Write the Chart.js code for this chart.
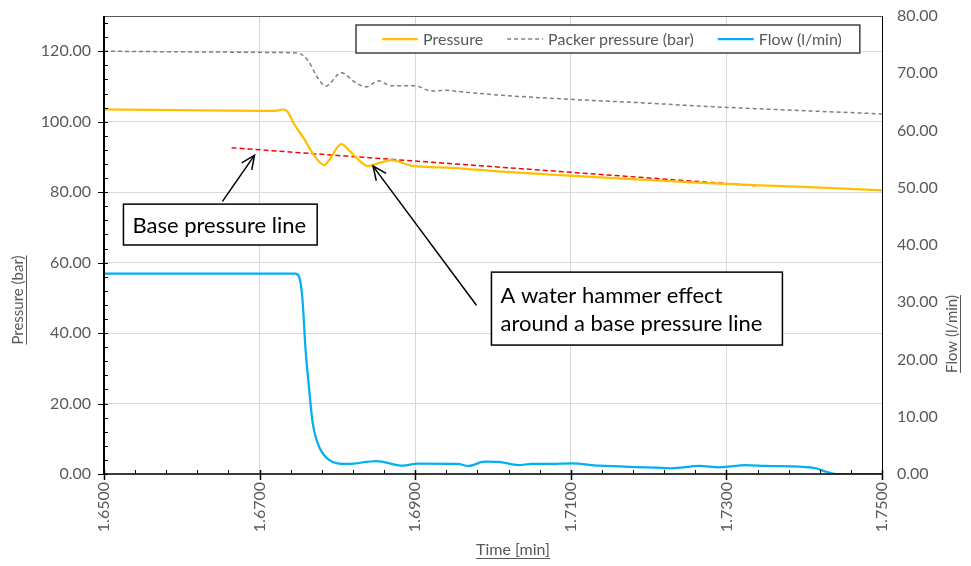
<!DOCTYPE html>
<html>
<head>
<meta charset="utf-8">
<script src="https://cdn.jsdelivr.net/npm/chart.js@4.4.1/dist/chart.umd.min.js"></script>
<style>
  html, body { margin: 0; padding: 0; background: #ffffff; }
  #wrap { width: 971px; height: 566px; position: relative; }
</style>
</head>
<body>
<div id="wrap"><canvas id="c" width="971" height="566"></canvas></div>
<script>
// Tick labels
const timeTicks = [1.65, 1.67, 1.69, 1.71, 1.73, 1.75];
const pressureTicks = [0, 20, 40, 60, 80, 100, 120];
const flowTicks = [0, 10, 20, 30, 40, 50, 60, 70, 80];

// Pressure (bar)
const pressureTime = [1.6500, 1.6598, 1.6700, 1.6721, 1.6730, 1.6736, 1.6744, 1.6757, 1.6770, 1.6783, 1.6789,
  1.6805, 1.6817, 1.6830, 1.6839, 1.6854, 1.6869, 1.6895, 1.6921, 1.6946, 1.7011, 1.7104, 1.7269, 1.7398, 1.7500];
const pressureBar = [103.5, 103.3, 103.1, 103.1, 103.5, 102.8, 99.5, 95.2, 90.5, 87.7, 89.0,
  93.6, 91.4, 88.6, 87.4, 88.3, 89.1, 87.5, 87.1, 86.9, 85.8, 84.6, 82.6, 81.5, 80.5];

// Packer pressure (bar)
const packerTime = [1.6500, 1.6624, 1.6740, 1.6749, 1.6762, 1.6774, 1.6785, 1.6805, 1.6822, 1.6837, 1.6853,
  1.6869, 1.6899, 1.6921, 1.6937, 1.6968, 1.7011, 1.7104, 1.7205, 1.7269, 1.7500];
const packerBar = [120.0, 119.8, 119.6, 119.5, 117.4, 112.7, 110.1, 113.9, 111.3, 109.9, 111.6,
  110.2, 110.2, 108.7, 108.9, 108.3, 107.5, 106.3, 105.2, 104.4, 102.2];

// Flow (l/min)
const flowTime = [1.6500, 1.6746, 1.6751, 1.6755, 1.6759, 1.6764, 1.6768, 1.6774, 1.6787, 1.6813, 1.6850,
  1.6884, 1.6903, 1.6955, 1.6968, 1.6989, 1.7007, 1.7033, 1.7050, 1.7071, 1.7101, 1.7136, 1.7200, 1.7230,
  1.7265, 1.7291, 1.7325, 1.7351, 1.7394, 1.7415, 1.7428, 1.7441, 1.7500];
const flowLpm = [35.0, 35.0, 34.4, 30.7, 21.9, 14.4, 9.1, 5.6, 2.7, 1.75, 2.27,
  1.45, 1.80, 1.75, 1.40, 2.15, 2.10, 1.57, 1.75, 1.75, 1.87, 1.45, 1.17, 1.00,
  1.40, 1.17, 1.57, 1.40, 1.28, 1.00, 0.40, 0.00, 0.00];

// Base pressure line (bar)
const baseLineTime = [1.6664, 1.7340];
const baseLineBar = [92.6, 81.8];

// Callouts, anchored in data units (time, pressure)
const callouts = [
  { lines: ['Base pressure line'], box: [1.6525, 76.6, 1.6774, 65.0],
    arrowFrom: [1.66523, 77.4], arrowTo: [1.66935, 90.5] },
  { lines: ['A water hammer effect', 'around a base pressure line'], box: [1.6998, 57.3, 1.7372, 36.6],
    arrowFrom: [1.69787, 47.9], arrowTo: [1.68458, 87.4] }
];

const FONT = 'Lato, "Open Sans", sans-serif';
const GREY_TEXT = '#595959';

const toXY = (xs, ys) => xs.map((x, i) => ({ x: x, y: ys[i] }));

// fixed axis band sizes, no extra label overhang padding
function fixWidth(w) { return s => { s.width = w; s.paddingTop = 0; s.paddingBottom = 0; }; }
function fixHeight(h) { return s => { s.height = h; s.paddingLeft = 0; s.paddingRight = 0; }; }

const decorations = {
  id: 'decorations',
  afterDatasetsDraw(chart) {
    const ctx = chart.ctx;
    const a = chart.chartArea;
    const xs = chart.scales.x, yl = chart.scales.y;
    ctx.save();

    // frame: top border, right axis, left axis, bottom axis
    ctx.strokeStyle = '#595959'; ctx.lineWidth = 1;
    ctx.beginPath(); ctx.moveTo(a.left, a.top + 0.5); ctx.lineTo(a.right, a.top + 0.5); ctx.stroke();
    ctx.strokeStyle = '#000000';
    ctx.beginPath(); ctx.moveTo(a.right + 0.5, a.top); ctx.lineTo(a.right + 0.5, a.bottom); ctx.stroke();
    ctx.lineWidth = 2;
    ctx.beginPath(); ctx.moveTo(a.left, a.top); ctx.lineTo(a.left, a.bottom + 1); ctx.stroke();
    ctx.lineWidth = 1.5;
    ctx.beginPath(); ctx.moveTo(a.left, a.bottom); ctx.lineTo(a.right, a.bottom); ctx.stroke();

    // left axis ticks: major outside, minor inside
    ctx.lineWidth = 1;
    for (let v = 0; v <= 130.001; v += 4) {
      const y = Math.round(yl.getPixelForValue(v)) + 0.5;
      ctx.beginPath(); ctx.moveTo(a.left, y); ctx.lineTo(a.left + 4, y); ctx.stroke();
    }
    pressureTicks.forEach(v => {
      const y = Math.round(yl.getPixelForValue(v)) + 0.5;
      ctx.beginPath(); ctx.moveTo(a.left - 6, y); ctx.lineTo(a.left, y); ctx.stroke();
    });
    // bottom axis ticks
    for (let i = 0; i <= 25; i++) {
      const x = Math.round(xs.getPixelForValue(1.65 + i * 0.004)) + 0.5;
      ctx.beginPath(); ctx.moveTo(x, a.bottom - 4); ctx.lineTo(x, a.bottom); ctx.stroke();
    }
    ctx.lineWidth = 1.5;
    timeTicks.forEach(v => {
      const x = Math.round(xs.getPixelForValue(v)) + 0.5;
      ctx.beginPath(); ctx.moveTo(x, a.bottom - 4); ctx.lineTo(x, a.bottom + 6); ctx.stroke();
    });

    // axis titles (underlined)
    ctx.fillStyle = GREY_TEXT; ctx.strokeStyle = GREY_TEXT;
    ctx.textBaseline = 'alphabetic';
    const underlined = (txt, cx, cy, rot, size) => {
      ctx.save();
      ctx.font = size + 'px ' + FONT;
      ctx.translate(cx, cy); ctx.rotate(rot);
      const w = ctx.measureText(txt).width;
      ctx.textAlign = 'center';
      ctx.fillText(txt, 0, 5);
      ctx.lineWidth = 1;
      ctx.beginPath(); ctx.moveTo(-w / 2, 8.5); ctx.lineTo(w / 2, 8.5); ctx.stroke();
      ctx.restore();
    };
    underlined('Pressure (bar)', 18, 300, -Math.PI / 2, 15);
    underlined('Flow (l/min)', 952, 334, -Math.PI / 2, 15);
    underlined('Time [min]', 513, 550, 0, 16);

    // legend
    const items = chart.data.datasets.filter(d => !d.hideInLegend);
    ctx.font = '16px ' + FONT;
    const boxL = 356, boxT = 25, boxH = 28, gap = 24;
    let x = boxL + 26;
    const pos = [];
    items.forEach(d => {
      const w = ctx.measureText(d.label).width;
      pos.push({ d, x, w });
      x += 36 + 5 + w + gap;
    });
    const boxR = x - gap + 18;
    ctx.fillStyle = '#ffffff';
    ctx.fillRect(boxL, boxT, boxR - boxL, boxH);
    ctx.strokeStyle = '#404040'; ctx.lineWidth = 1.5;
    ctx.strokeRect(boxL, boxT, boxR - boxL, boxH);
    const cy = boxT + boxH / 2;
    pos.forEach(p => {
      ctx.strokeStyle = p.d.borderColor;
      ctx.lineWidth = p.d.borderWidth;
      ctx.setLineDash(p.d.borderDash || []);
      ctx.beginPath(); ctx.moveTo(p.x, cy); ctx.lineTo(p.x + 36, cy); ctx.stroke();
      ctx.setLineDash([]);
      ctx.fillStyle = GREY_TEXT;
      ctx.textAlign = 'left'; ctx.textBaseline = 'middle';
      ctx.fillText(p.d.label, p.x + 41, cy + 1);
    });

    // callouts with arrows
    const px = (t, p) => [xs.getPixelForValue(t), yl.getPixelForValue(p)];
    callouts.forEach(c => {
      const [bx1, by1] = px(c.box[0], c.box[1]);
      const [bx2, by2] = px(c.box[2], c.box[3]);
      const [ax1, ay1] = px(c.arrowFrom[0], c.arrowFrom[1]);
      const [ax2, ay2] = px(c.arrowTo[0], c.arrowTo[1]);
      // arrow
      ctx.strokeStyle = '#000000'; ctx.lineWidth = 1.5;
      ctx.beginPath(); ctx.moveTo(ax1, ay1); ctx.lineTo(ax2, ay2); ctx.stroke();
      const ang = Math.atan2(ay2 - ay1, ax2 - ax1);
      const hl = 15, hw = 0.42;
      ctx.beginPath();
      ctx.moveTo(ax2 - hl * Math.cos(ang - hw), ay2 - hl * Math.sin(ang - hw));
      ctx.lineTo(ax2, ay2);
      ctx.lineTo(ax2 - hl * Math.cos(ang + hw), ay2 - hl * Math.sin(ang + hw));
      ctx.stroke();
      // box
      ctx.fillStyle = '#ffffff';
      ctx.fillRect(bx1, by1, bx2 - bx1, by2 - by1);
      ctx.strokeStyle = '#000000'; ctx.lineWidth = 1.5;
      ctx.strokeRect(bx1, by1, bx2 - bx1, by2 - by1);
      ctx.fillStyle = '#000000';
      ctx.font = '22px ' + FONT;
      ctx.textAlign = 'left'; ctx.textBaseline = 'middle';
      const n = c.lines.length, lh = 28;
      const midY = (by1 + by2) / 2;
      c.lines.forEach((ln, i) => {
        ctx.fillText(ln, bx1 + 9, midY + (i - (n - 1) / 2) * lh + 1);
      });
    });
    ctx.restore();
  }
};

new Chart(document.getElementById('c'), {
  type: 'line',
  data: {
    datasets: [
      { label: 'Pressure', data: toXY(pressureTime, pressureBar), yAxisID: 'y',
        borderColor: '#FFC000', borderWidth: 2.25, cubicInterpolationMode: 'monotone' },
      { label: 'Packer pressure (bar)', data: toXY(packerTime, packerBar), yAxisID: 'y',
        borderColor: '#808080', borderWidth: 1.5, borderDash: [4, 3], cubicInterpolationMode: 'monotone' },
      { label: 'Flow (l/min)', data: toXY(flowTime, flowLpm), yAxisID: 'y1',
        borderColor: '#00B0F0', borderWidth: 2.25, cubicInterpolationMode: 'monotone' },
      { label: 'Base pressure line', data: toXY(baseLineTime, baseLineBar), yAxisID: 'y',
        borderColor: '#FF0000', borderWidth: 1.5, borderDash: [5, 3], hideInLegend: true }
    ]
  },
  options: {
    responsive: false,
    animation: false,
    devicePixelRatio: 1,
    layout: { padding: { top: 16, left: 0, right: 0, bottom: 0 } },
    elements: { point: { radius: 0 }, line: { fill: false } },
    plugins: { legend: { display: false }, tooltip: { enabled: false } },
    scales: {
      x: {
        type: 'linear', min: 1.65, max: 1.75,
        afterBuildTicks: s => { s.ticks = timeTicks.map(v => ({ value: v })); },
        afterFit: fixHeight(92),
        grid: { color: '#d9d9d9', lineWidth: 1, drawTicks: false },
        border: { display: false },
        ticks: { minRotation: 90, maxRotation: 90, padding: 8, color: GREY_TEXT,
          font: { family: FONT, size: 16 }, callback: v => Number(v).toFixed(4) }
      },
      y: {
        position: 'left', min: 0, max: 130,
        afterBuildTicks: s => { s.ticks = pressureTicks.map(v => ({ value: v })); },
        afterFit: fixWidth(104),
        grid: { color: '#d9d9d9', lineWidth: 1, drawTicks: false },
        border: { display: false },
        ticks: { padding: 13, color: GREY_TEXT, font: { family: FONT, size: 16 },
          callback: v => Number(v).toFixed(2) }
      },
      y1: {
        position: 'right', min: 0, max: 80,
        afterBuildTicks: s => { s.ticks = flowTicks.map(v => ({ value: v })); },
        afterFit: fixWidth(89),
        grid: { display: false, drawTicks: false },
        border: { display: false },
        ticks: { padding: 15, color: GREY_TEXT, font: { family: FONT, size: 16 },
          callback: v => Number(v).toFixed(2) }
      }
    }
  },
  plugins: [decorations]
});
</script>
</body>
</html>
